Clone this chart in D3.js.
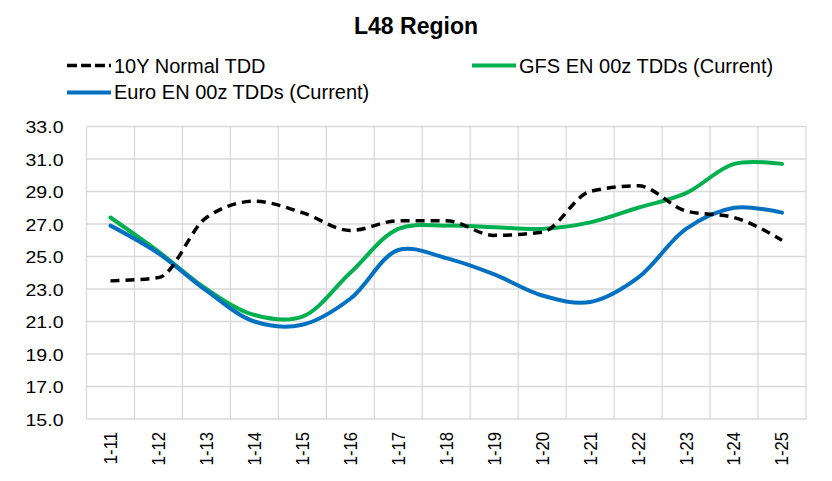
<!DOCTYPE html>
<html><head><meta charset="utf-8">
<script src="https://cdn.jsdelivr.net/npm/d3@7"></script>
<style>body{margin:0;background:#fff;} svg{display:block;font-family:"Liberation Sans",Arial,sans-serif;}</style>
</head><body>
<script>
const categories = ["1-11","1-12","1-13","1-14","1-15","1-16","1-17","1-18","1-19","1-20","1-21","1-22","1-23","1-24","1-25"];
const normalTDD = [23.5,23.7,27.4,28.4,27.7,26.6,27.2,27.2,26.3,26.5,29.0,29.35,27.8,27.4,26.0];
const gfsTDD    = [27.4,25.3,23.0,21.4,21.3,24.0,26.7,26.9,26.8,26.7,27.1,28.0,28.9,30.7,30.7];
const euroTDD   = [26.9,25.2,22.9,21.0,20.8,22.4,25.4,24.9,23.9,22.6,22.2,23.7,26.7,28.0,27.7];
const yTicks = [15,17,19,21,23,25,27,29,31,33];

const W = 832, H = 481;
const m = {left:86.5, right:26, top:126.5, bottom:62};
const svg = d3.select("body").append("svg").attr("width",W).attr("height",H);

const x = d3.scaleBand().domain(categories).range([m.left, W-m.right]).padding(0);
const y = d3.scaleLinear().domain([15,33]).range([H-m.bottom, m.top]);

// grid
const g = svg.append("g");
g.selectAll("line.h").data(yTicks).join("line")
  .attr("x1",m.left).attr("x2",W-m.right)
  .attr("y1",d=>y(d)).attr("y2",d=>y(d))
  .attr("stroke","#d9d9d9").attr("stroke-width",1.3);
const bounds = categories.map(c=>x(c)).concat([W-m.right]);
g.selectAll("line.v").data(bounds).join("line")
  .attr("x1",d=>d).attr("x2",d=>d)
  .attr("y1",m.top).attr("y2",H-m.bottom)
  .attr("stroke","#d9d9d9").attr("stroke-width",1.3);

// y axis
const yAxis = d3.axisLeft(y).tickValues(yTicks).tickFormat(d3.format(".1f")).tickSize(0).tickPadding(0);
const ya = svg.append("g").attr("transform",`translate(${m.left},0)`).call(yAxis);
ya.select(".domain").remove();
ya.selectAll(".tick text").attr("font-size",17.3).attr("fill","#000").attr("font-family","Liberation Sans, Arial, sans-serif")
  .attr("x",0).attr("text-anchor","end").attr("dy","0.35em")
  .attr("transform","translate(-23,0) scale(1.13,1)");

// x axis
const xAxis = d3.axisBottom(x).tickSize(0);
const xa = svg.append("g").attr("transform",`translate(0,${H-m.bottom})`).call(xAxis);
xa.select(".domain").remove();
xa.selectAll(".tick text").attr("font-size",16.7).attr("fill","#000").attr("font-family","Liberation Sans, Arial, sans-serif")
  .attr("transform","rotate(-90) scale(1,1.1)").attr("text-anchor","end").attr("dy","0.35em").attr("x",-13).attr("y",0);

// lines
const xc = d => x(d) + x.bandwidth()/2;
const line = d3.line().x((d,i)=>xc(categories[i])).y(d=>y(d)).curve(d3.curveCatmullRom.alpha(0.5));
const lineM = d3.line().x((d,i)=>xc(categories[i])).y(d=>y(d)).curve(d3.curveMonotoneX);
svg.append("path").attr("d",line(gfsTDD)).attr("fill","none").attr("stroke","#00B050").attr("stroke-width",4).attr("stroke-linecap","round");
svg.append("path").attr("d",line(euroTDD)).attr("fill","none").attr("stroke","#0070C0").attr("stroke-width",4).attr("stroke-linecap","round");
svg.append("path").attr("d",lineM(normalTDD)).attr("fill","none").attr("stroke","#000").attr("stroke-width",3.5).attr("stroke-dasharray","9,6");

// title
svg.append("text").attr("x",416).attr("y",34).attr("text-anchor","middle").attr("font-size",23).attr("font-weight","bold").text("L48 Region");

// legend
const legend = [
  {name:"10Y Normal TDD", color:"#000", dash:"10,4", x:67, y:65.5, by:72.6},
  {name:"GFS EN 00z TDDs (Current)", color:"#00B050", dash:null, x:472, y:65.5, by:72.6},
  {name:"Euro EN 00z TDDs (Current)", color:"#0070C0", dash:null, x:67, y:92.5, by:99}
];
legend.forEach(l=>{
  svg.append("line").attr("x1",l.x).attr("x2",l.x+44).attr("y1",l.y).attr("y2",l.y)
    .attr("stroke",l.color).attr("stroke-width",l.dash?3.5:4).attr("stroke-dasharray",l.dash);
  svg.append("text").attr("x",l.x+47).attr("y",l.by).attr("font-size",20).text(l.name);
});
</script>
</body></html>
